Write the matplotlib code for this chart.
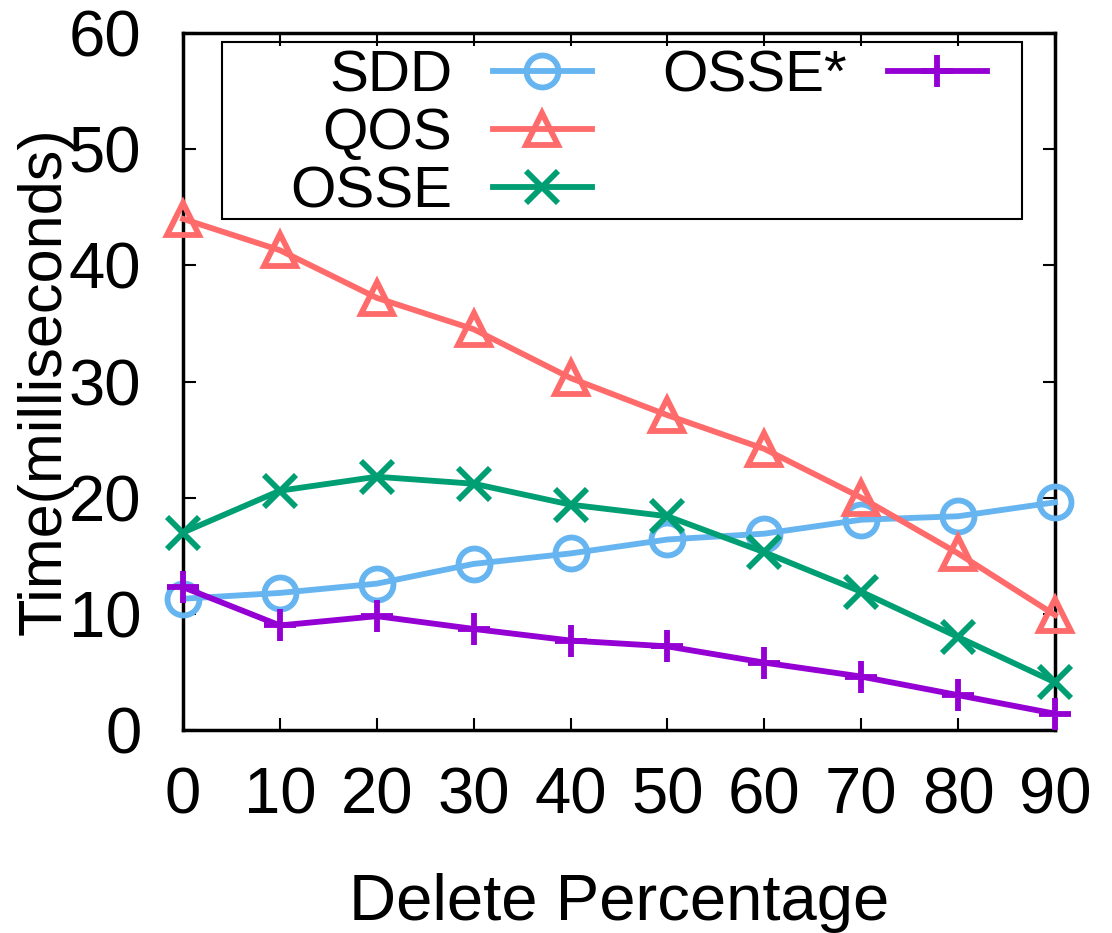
import matplotlib
matplotlib.use('Agg')
from matplotlib import pyplot as plt
from matplotlib.lines import Line2D
from matplotlib.patches import Rectangle

# data
delete_pct = [0, 10, 20, 30, 40, 50, 60, 70, 80, 90]
sdd = [11.3, 11.8, 12.6, 14.3, 15.2, 16.4, 16.9, 18.1, 18.4, 19.6]
qos = [44.0, 41.3, 37.2, 34.5, 30.3, 27.1, 24.2, 20.0, 15.2, 9.9]
osse = [17.0, 20.6, 21.8, 21.2, 19.4, 18.4, 15.3, 11.9, 8.0, 4.1]
osse_star = [12.3, 9.0, 9.8, 8.7, 7.7, 7.2, 5.8, 4.6, 3.0, 1.4]

plt.rcParams['font.family'] = ['Liberation Sans', 'DejaVu Sans']

fig = plt.figure(figsize=(11.12, 9.33), dpi=100)
ax = fig.add_axes([183 / 1112, 1 - 730 / 933, 872 / 1112, 697 / 933])

series = [
    ('SDD', sdd, '#66b5f0', 'o'),
    ('QOS', qos, '#ff6b6b', '^'),
    ('OSSE', osse, '#009e73', 'x'),
    ('OSSE*', osse_star, '#9400d3', '+'),
]
handles = []
for name, vals, color, marker in series:
    line, = ax.plot(delete_pct, vals, color=color, lw=4.2, marker=marker,
                    markersize=23, markeredgewidth=4.2, markerfacecolor='none',
                    clip_on=False, label=name, zorder=3)
    handles.append(line)

ax.set_xlim(0, 90)
ax.set_ylim(0, 60)
ax.set_xticks(delete_pct)
ax.set_yticks(range(0, 61, 10))
ax.tick_params(direction='in', length=9, width=1.5, labelsize=47,
               top=True, right=True)
ax.tick_params(axis='x', pad=26)
ax.tick_params(axis='y', pad=30)
for sp in ax.spines.values():
    sp.set_linewidth(2.5)

ax.set_xlabel('Delete Percentage', fontsize=47, labelpad=34)
ax.set_ylabel('Time(milliseconds)', fontsize=44)
ax.yaxis.set_label_coords(-0.126, 0.5)

# gnuplot style key: labels right-aligned, sample to the right
blank = Line2D([], [], color='none')
leg = ax.legend(handles + [blank, blank],
                ['SDD', 'QOS', 'OSSE', 'OSSE*', '', ''],
                ncol=2, loc='upper left', mode='expand',
                bbox_to_anchor=(107 / 872, 0.0, 697 / 872, 1 - 16 / 697),
                borderaxespad=0, borderpad=0, frameon=False,
                markerfirst=False, fontsize=42, handlelength=1.7,
                handletextpad=0.7, labelspacing=0.07, columnspacing=1.0)
ax.add_patch(Rectangle((39 / 872, (730 - 219) / 697), 800 / 872, 177 / 697,
                       transform=ax.transAxes, fill=False, lw=1.5,
                       ec='black', zorder=4, clip_on=False))

fig.savefig('out.png', dpi=100)
